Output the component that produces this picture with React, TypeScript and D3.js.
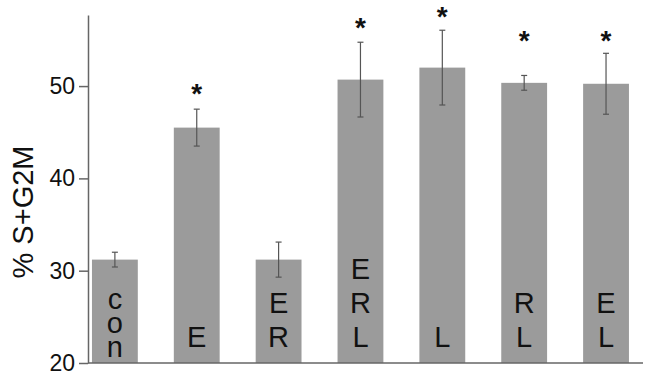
import React, { useRef, useEffect } from 'react';
import * as d3 from 'd3';

// --- DATA ---
const categories = ['con', 'E', 'ER', 'ERL', 'L', 'RL', 'EL'];
// text stacked vertically inside each bar, read top to bottom
const barLabels = ['con', 'E', 'ER', 'ERL', 'L', 'RL', 'EL'];
const means = [31.2, 45.5, 31.2, 50.7, 52.0, 50.35, 50.25];
const errors = [0.8, 2.0, 1.9, 4.05, 4.05, 0.8, 3.3];
// y-value of the significance star (null = no star)
const starValues: (number | null)[] = [null, 49.9, null, 57.0, 58.2, 55.6, 55.6];
const yTicks = [20, 30, 40, 50];

const FONT = '"Liberation Sans", Arial, Helvetica, sans-serif';

export default function App() {
  const svgRef = useRef<SVGSVGElement>(null);

  useEffect(() => {
    if (!svgRef.current) return;
    const width = 649;
    const height = 377;
    const svg = d3.select(svgRef.current);
    svg.selectAll('*').remove();
    svg.attr('width', width).attr('height', height);

    const axisX = 88;
    const baseY = 363;

    const yScale = d3.scaleLinear().domain([20, 57.7]).range([baseY, 15]);
    const xScale = d3.scaleBand<string>()
      .domain(categories)
      .range([axisX, 643])
      .paddingInner(0.44)
      .paddingOuter(0.11)
      .align(0.22);

    const axisColor = '#666';

    // Y axis
    const yAxis = svg.append('g')
      .attr('transform', `translate(${axisX},0)`)
      .call(d3.axisLeft(yScale).tickValues(yTicks).tickSize(9).tickSizeOuter(0).tickPadding(4));
    yAxis.select('.domain').attr('stroke', axisColor).attr('stroke-width', 1.5);
    yAxis.selectAll('.tick line').attr('stroke', axisColor).attr('stroke-width', 1.5);
    yAxis.selectAll('text')
      .attr('fill', '#111')
      .style('font-size', '23px')
      .style('font-family', FONT);

    // Y label
    svg.append('text')
      .attr('transform', `translate(33,212) rotate(-90)`)
      .attr('text-anchor', 'middle')
      .attr('fill', '#111')
      .style('font-size', '29px')
      .style('font-family', FONT)
      .text('% S+G2M');

    // Bars
    const bw = xScale.bandwidth();
    svg.append('g').selectAll('rect')
      .data(categories)
      .enter()
      .append('rect')
      .attr('x', d => xScale(d) || 0)
      .attr('y', (_, i) => yScale(means[i]))
      .attr('width', bw)
      .attr('height', (_, i) => baseY - yScale(means[i]))
      .attr('fill', '#9b9b9b');

    // X axis line
    svg.append('line')
      .attr('x1', axisX).attr('x2', 643)
      .attr('y1', baseY).attr('y2', baseY)
      .attr('stroke', axisColor).attr('stroke-width', 1.5);

    // Error bars
    const errColor = '#555';
    categories.forEach((c, i) => {
      const cx = (xScale(c) || 0) + bw / 2;
      const y1 = yScale(means[i] + errors[i]);
      const y2 = yScale(means[i] - errors[i]);
      const g = svg.append('g').attr('stroke', errColor).attr('stroke-width', 1.2);
      g.append('line').attr('x1', cx).attr('x2', cx).attr('y1', y1).attr('y2', y2);
      g.append('line').attr('x1', cx - 3).attr('x2', cx + 3).attr('y1', y1).attr('y2', y1);
      g.append('line').attr('x1', cx - 3).attr('x2', cx + 3).attr('y1', y2).attr('y2', y2);

      // upright vertical label ending just above the baseline
      const label = barLabels[i];
      const lower = label === label.toLowerCase();
      svg.append('text')
        .attr('x', cx)
        .attr('y', baseY - 8)
        .attr('text-anchor', 'end')
        .attr('fill', '#111')
        .style('writing-mode', 'vertical-rl')
        .style('text-orientation', 'upright')
        .style('letter-spacing', lower ? '-8px' : '2px')
        .style('font-size', '29px')
        .style('font-family', FONT)
        .text(label);

      // significance star
      const sv = starValues[i];
      if (sv !== null) {
        svg.append('text')
          .attr('x', cx)
          .attr('y', yScale(sv) + 16)
          .attr('text-anchor', 'middle')
          .attr('fill', '#111')
          .style('font-size', '28px')
          .style('font-weight', 'bold')
          .style('font-family', FONT)
          .text('*');
      }
    });
  }, []);

  return (
    <div style={{ position: 'absolute', left: 0, top: 0 }}>
      <svg ref={svgRef}></svg>
    </div>
  );
}
